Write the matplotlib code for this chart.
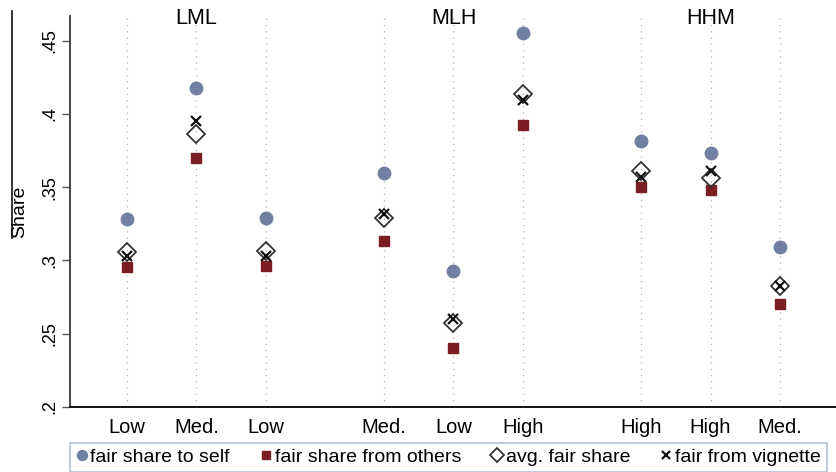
"""
Fair share by position, Stata-like dot plot
"""

import numpy as np
from matplotlib import pyplot as plt
from matplotlib.lines import Line2D

plt.rcParams["font.family"] = ["Liberation Sans", "DejaVu Sans"]

# categories, grouped by treatment
groups = ["LML", "MLH", "HHM"]
tickLabels = ["Low", "Med.", "Low", "Med.", "Low", "High", "High", "High", "Med."]
xPos = [1, 2, 3, 4.7, 5.7, 6.7, 8.4, 9.4, 10.4]

# series values
selfShare = [0.328, 0.4175, 0.3287, 0.3597, 0.2927, 0.4548, 0.3816, 0.3732, 0.3089]
othersShare = [0.2953, 0.370, 0.2959, 0.3130, 0.2402, 0.3927, 0.3500, 0.3477, 0.2700]
avgShare = [0.306, 0.386, 0.3066, 0.3287, 0.2575, 0.4134, 0.3611, 0.3560, 0.2825]
vignetteShare = [0.303, 0.3952, 0.3030, 0.3320, 0.2598, 0.4093, 0.3570, 0.3611, 0.2825]

yTicks = [0.2, 0.25, 0.3, 0.35, 0.4, 0.45]
yTickLabels = [".2", ".25", ".3", ".35", ".4", ".45"]

fig = plt.figure(figsize=(8.37, 4.72), dpi=100)
ax = fig.add_axes([0.0836, 0.1377, 0.9164, 0.8283])

for x in xPos:
    ax.axvline(x, color="#b4b4b4", linestyle=(0, (1, 4)), linewidth=0.9, zorder=0)

ax.plot(xPos, selfShare, "o", color="#7180a0", markersize=9, linestyle="none",
        label="fair share to self")
ax.plot(xPos, othersShare, "s", color="#7a1e24", markersize=7, linestyle="none",
        label="fair share from others")
ax.plot(xPos, avgShare, "D", markerfacecolor="none", markeredgecolor="#333333",
        markeredgewidth=1.3, markersize=9, linestyle="none", label="avg. fair share")
ax.plot(xPos, vignetteShare, "x", color="#111111", markersize=7, markeredgewidth=1.6,
        linestyle="none", label="fair from vignette")

ax.set_xlim(0.18, 11.22)
ax.set_ylim(0.2, 0.4667)
ax.set_xticks(xPos)
ax.set_xticklabels(tickLabels, fontsize=14.5)
ax.tick_params(axis="x", length=0, pad=8)
ax.set_yticks(yTicks)
ax.set_yticklabels(yTickLabels, fontsize=13, rotation=90, va="center")
ax.tick_params(axis="y", length=6, width=1.0, color="#555555", pad=2)

ax.spines["top"].set_visible(False)
ax.spines["right"].set_visible(False)
ax.spines["left"].set_color("#444444")
ax.spines["left"].set_linewidth(1.4)
ax.spines["bottom"].set_color("#111111")
ax.spines["bottom"].set_linewidth(1.4)

ax.set_ylabel("Share", fontsize=14)
ax.yaxis.set_label_coords(-0.055, 0.5)

# group titles above the middle category of each group
for g, xc in zip(groups, [xPos[1], xPos[4], xPos[7]]):
    ax.text(xc, 0.995, g, transform=ax.get_xaxis_transform(), ha="center", va="center",
            fontsize=15.5)

# stray rule beside the axis title
fig.add_artist(Line2D([12.5 / 837, 12.5 / 837], [1 - 11 / 472, 1 - 238 / 472],
                      color="#111111", linewidth=1.2))

leg = fig.legend(loc="lower left", bbox_to_anchor=(70 / 837, 0.0), ncol=4,
                 fontsize=14, frameon=True, fancybox=False, handletextpad=0.15,
                 columnspacing=1.55, handlelength=0.6, borderpad=0.3,
                 borderaxespad=0, markerscale=0.8)
leg.get_frame().set_edgecolor("#9fb0c8")
leg.get_frame().set_linewidth(1.2)

fig.savefig("out.png", dpi=100)
